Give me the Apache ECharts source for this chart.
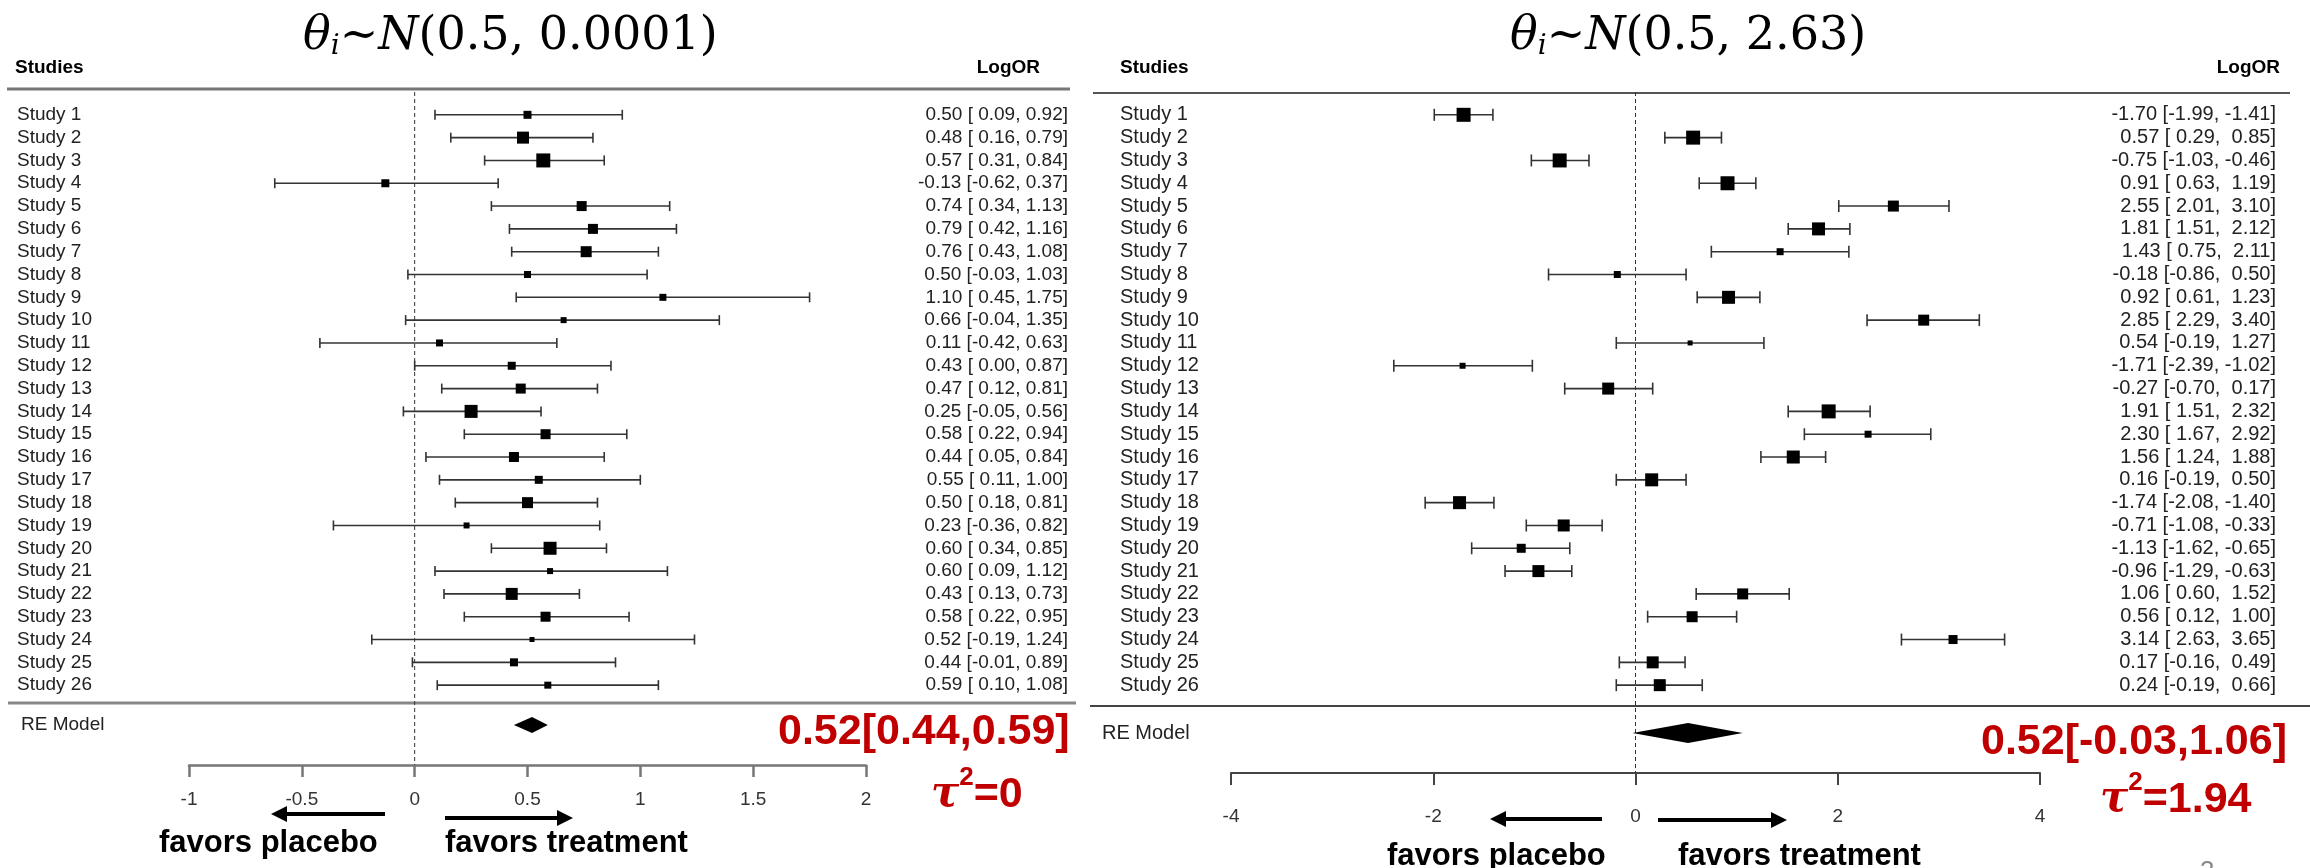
<!DOCTYPE html>
<html>
<head>
<meta charset="utf-8">
<script src="https://cdn.jsdelivr.net/npm/echarts/dist/echarts.min.js"></script>
<style>
  html, body { margin: 0; padding: 0; background: #fff; }
  #chart { width: 2310px; height: 868px; }
</style>
</head>
<body>
<div id="chart"></div>
<script>
// study labels
const studies = Array.from({ length: 26 }, (_, i) => 'Study ' + (i + 1));

// left panel: theta_i ~ N(0.5, 0.0001)
const leftEst = [0.50, 0.48, 0.57, -0.13, 0.74, 0.79, 0.76, 0.50, 1.10, 0.66, 0.11, 0.43, 0.47, 0.25, 0.58, 0.44, 0.55, 0.50, 0.23, 0.60, 0.60, 0.43, 0.58, 0.52, 0.44, 0.59];
const leftLo = [0.09, 0.16, 0.31, -0.62, 0.34, 0.42, 0.43, -0.03, 0.45, -0.04, -0.42, 0.00, 0.12, -0.05, 0.22, 0.05, 0.11, 0.18, -0.36, 0.34, 0.09, 0.13, 0.22, -0.19, -0.01, 0.10];
const leftHi = [0.92, 0.79, 0.84, 0.37, 1.13, 1.16, 1.08, 1.03, 1.75, 1.35, 0.63, 0.87, 0.81, 0.56, 0.94, 0.84, 1.00, 0.81, 0.82, 0.85, 1.12, 0.73, 0.95, 1.24, 0.89, 1.08];
const leftWeight = [8, 12, 14, 8, 10, 10, 11, 7, 7, 6, 7, 8, 10, 13, 10, 10, 8, 11, 6, 13, 6, 12, 10, 5, 8, 7];
const leftPooled = [0.52, 0.44, 0.59];
const leftTicks = [-1, 2, 0.5];

// right panel: theta_i ~ N(0.5, 2.63)
const rightEst = [-1.70, 0.57, -0.75, 0.91, 2.55, 1.81, 1.43, -0.18, 0.92, 2.85, 0.54, -1.71, -0.27, 1.91, 2.30, 1.56, 0.16, -1.74, -0.71, -1.13, -0.96, 1.06, 0.56, 3.14, 0.17, 0.24];
const rightLo = [-1.99, 0.29, -1.03, 0.63, 2.01, 1.51, 0.75, -0.86, 0.61, 2.29, -0.19, -2.39, -0.70, 1.51, 1.67, 1.24, -0.19, -2.08, -1.08, -1.62, -1.29, 0.60, 0.12, 2.63, -0.16, -0.19];
const rightHi = [-1.41, 0.85, -0.46, 1.19, 3.10, 2.12, 2.11, 0.50, 1.23, 3.40, 1.27, -1.02, 0.17, 2.32, 2.92, 1.88, 0.50, -1.40, -0.33, -0.65, -0.63, 1.52, 1.00, 3.65, 0.49, 0.66];
const rightWeight = [14, 14, 14, 14, 11, 13, 7, 7, 13, 11, 5, 6, 12, 14, 7, 13, 13, 13, 12, 9, 12, 11, 11, 9, 12, 12];
const rightPooled = [0.52, -0.03, 1.06];
const rightTicks = [-4, 4, 2];

const rows = studies.map((_, i) => i + 1);

const TXT = '#222';
const R_FONT = '"Liberation Sans", Arial, sans-serif';
const RED = '#C00000';

// pad a column like R does
function fmtCol(vals) {
  const s = vals.map(v => v.toFixed(2));
  const w = Math.max(...s.map(t => t.length));
  return s.map(t => t.padStart(w, ' '));
}
function ciLabels(est, lo, hi) {
  const l = fmtCol(lo), h = fmtCol(hi);
  return est.map((e, i) => e.toFixed(2) + ' [' + l[i] + ', ' + h[i] + ']');
}

function ciSeries(g, est, lo, hi, weight, cap, color) {
  return {
    type: 'custom', xAxisIndex: g, yAxisIndex: g, silent: true, clip: false,
    data: est.map((e, i) => [e, i + 1, lo[i], hi[i], weight[i]]),
    renderItem(params, api) {
      const row = api.value(1);
      const pe = api.coord([api.value(0), row]);
      const pl = api.coord([api.value(2), row]);
      const ph = api.coord([api.value(3), row]);
      const s = api.value(4);
      const st = { stroke: color, lineWidth: 1.6 };
      return {
        type: 'group', children: [
          { type: 'line', shape: { x1: pl[0], y1: pl[1], x2: ph[0], y2: ph[1] }, style: st },
          { type: 'line', shape: { x1: pl[0], y1: pl[1] - cap, x2: pl[0], y2: pl[1] + cap }, style: st },
          { type: 'line', shape: { x1: ph[0], y1: ph[1] - cap, x2: ph[0], y2: ph[1] + cap }, style: st },
          { type: 'rect', shape: { x: pe[0] - s / 2, y: pe[1] - s / 2, width: s, height: s }, style: { fill: '#000' } }
        ]
      };
    }
  };
}

function diamondSeries(g, pooled, row, half) {
  return {
    type: 'custom', xAxisIndex: g, yAxisIndex: g, silent: true, clip: false,
    data: [[pooled[0], row, pooled[1], pooled[2]]],
    renderItem(params, api) {
      const r = api.value(1);
      const pe = api.coord([api.value(0), r]);
      const pl = api.coord([api.value(2), r]);
      const ph = api.coord([api.value(3), r]);
      return {
        type: 'polygon',
        shape: { points: [[pl[0], pl[1]], [pe[0], pe[1] - half], [ph[0], ph[1]], [pe[0], pe[1] + half]] },
        style: { fill: '#000' }
      };
    }
  };
}

function zeroLine(g, yMax) {
  return {
    type: 'custom', xAxisIndex: g, yAxisIndex: g, silent: true, clip: false,
    data: [[0, 0]],
    renderItem(params, api) {
      const a = api.coord([0, 0]);
      const b = api.coord([0, yMax]);
      return { type: 'line', shape: { x1: a[0], y1: a[1], x2: b[0], y2: b[1] }, style: { stroke: '#333', lineWidth: 1, lineDash: [4, 3] } };
    }
  };
}

function textSeries(g, labels, rowList, x, align, size) {
  return {
    type: 'custom', xAxisIndex: g, yAxisIndex: g, silent: true, clip: false,
    data: rowList.map(r => [0, r]),
    renderItem(params, api) {
      const p = api.coord([0, api.value(1)]);
      return {
        type: 'text', x: x, y: p[1],
        style: { text: labels[params.dataIndex], align: align, verticalAlign: 'middle', font: size + 'px ' + R_FONT, fill: TXT }
      };
    }
  };
}

function xAxisCfg(g, ticks, lineColor, lineW, margin) {
  return {
    gridIndex: g, type: 'value', position: 'bottom', min: ticks[0], max: ticks[1], interval: ticks[2],
    splitLine: { show: false },
    axisLine: { onZero: false, lineStyle: { color: lineColor, width: lineW } },
    axisTick: { length: 12, lineStyle: { color: lineColor, width: lineW } },
    axisLabel: { margin: margin, fontSize: 19, color: '#333', fontFamily: 'Liberation Sans' }
  };
}

function arrow(x1, x2, y) {
  const dir = x2 > x1 ? 1 : -1;
  const hx = x2 - dir * 16;
  return {
    type: 'group', children: [
      { type: 'line', shape: { x1: x1, y1: y, x2: hx, y2: y }, style: { stroke: '#000', lineWidth: 4 } },
      { type: 'polygon', shape: { points: [[x2, y], [hx, y - 8], [hx, y + 8]] }, style: { fill: '#000' } }
    ]
  };
}

function title(x, params) {
  return {
    type: 'text', x: x, y: 37,
    style: {
      text: '{a|θ}{s|i}{b|~}{a|N}{b|(' + params + ')}',
      align: 'left', verticalAlign: 'middle', fill: '#000',
      rich: {
        a: { fontFamily: 'DejaVu Serif', fontStyle: 'italic', fontSize: 46, lineHeight: 48, fill: '#000' },
        s: { fontFamily: 'DejaVu Serif', fontStyle: 'italic', fontSize: 28, lineHeight: 28, verticalAlign: 'bottom', fill: '#000' },
        b: { fontFamily: 'DejaVu Serif', fontSize: 46, lineHeight: 48, fill: '#000' }
      }
    }
  };
}

function redText(x, y, txt) {
  return { type: 'text', x: x, y: y, style: { text: txt, align: 'left', verticalAlign: 'middle', font: 'bold 43px "Liberation Sans", Arial, sans-serif', fill: RED } };
}

function tauText(x, y, val) {
  return {
    type: 'text', x: x, y: y,
    style: {
      text: '{t|τ}{p|2}{r|=' + val + '}', align: 'left', verticalAlign: 'middle', fill: RED,
      rich: {
        t: { fontFamily: 'DejaVu Serif', fontStyle: 'italic', fontWeight: 'bold', fontSize: 42, lineHeight: 60, fill: RED },
        p: { fontFamily: 'Liberation Sans', fontWeight: 'bold', fontSize: 26, lineHeight: 26, verticalAlign: 'top', fill: RED },
        r: { fontFamily: 'Liberation Sans', fontWeight: 'bold', fontSize: 43, lineHeight: 60, fill: RED }
      }
    }
  };
}

function hline(x1, x2, y, color, w) {
  return { type: 'line', shape: { x1: x1, y1: y, x2: x2, y2: y }, style: { stroke: color, lineWidth: w } };
}

function plain(x, y, txt, font, align, color) {
  return { type: 'text', x: x, y: y, style: { text: txt, align: align || 'left', verticalAlign: 'middle', font: font, fill: color || '#000' } };
}

const LEFT_YMAX = 29.5, RIGHT_YMAX = 29.85;
const LEFT_RE = 27.75, RIGHT_RE = 28.1;

const option = {
  backgroundColor: '#fff',
  animation: false,
  grid: [
    { left: 189, width: 677, top: 92, height: 673 },
    { left: 1231, width: 809, top: 92, height: 681 }
  ],
  xAxis: [
    xAxisCfg(0, leftTicks, '#777', 2.5, 25),
    xAxisCfg(1, rightTicks, '#444', 2, 34)
  ],
  yAxis: [
    { gridIndex: 0, type: 'value', inverse: true, min: 0, max: LEFT_YMAX, show: false },
    { gridIndex: 1, type: 'value', inverse: true, min: 0, max: RIGHT_YMAX, show: false }
  ],
  series: [
    zeroLine(0, LEFT_YMAX),
    zeroLine(1, RIGHT_YMAX),
    ciSeries(0, leftEst, leftLo, leftHi, leftWeight, 5, '#333'),
    ciSeries(1, rightEst, rightLo, rightHi, rightWeight, 6, '#333'),
    diamondSeries(0, leftPooled, LEFT_RE, 8),
    diamondSeries(1, rightPooled, RIGHT_RE, 10),
    textSeries(0, studies, rows, 17, 'left', 19),
    textSeries(1, studies, rows, 1120, 'left', 20),
    textSeries(0, ciLabels(leftEst, leftLo, leftHi), rows, 1068, 'right', 19),
    textSeries(1, ciLabels(rightEst, rightLo, rightHi), rows, 2276, 'right', 20),
    textSeries(0, ['RE Model'], [LEFT_RE], 21, 'left', 19),
    textSeries(1, ['RE Model'], [RIGHT_RE], 1102, 'left', 20)
  ],
  graphic: [
    title(303, '0.5, 0.0001'),
    title(1510, '0.5, 2.63'),
    plain(15, 68, 'Studies', 'bold 19px "Liberation Sans"'),
    plain(1040, 68, 'LogOR', 'bold 19px "Liberation Sans"', 'right'),
    plain(1120, 68, 'Studies', 'bold 19px "Liberation Sans"'),
    plain(2280, 68, 'LogOR', 'bold 19px "Liberation Sans"', 'right'),
    hline(7, 1070, 89, '#777', 3),
    hline(1093, 2290, 93, '#555', 2),
    hline(8, 1076, 703, '#888', 3),
    hline(1090, 2310, 706, '#444', 2),
    redText(778, 732, '0.52[0.44,0.59]'),
    redText(1981, 742, '0.52[-0.03,1.06]'),
    tauText(931, 795, '0'),
    tauText(2100, 800, '1.94'),
    arrow(385, 271, 814),
    arrow(445, 573, 818),
    arrow(1602, 1490, 819),
    arrow(1658, 1787, 820),
    plain(159, 843, 'favors placebo', 'bold 31px "Liberation Sans"'),
    plain(445, 843, 'favors treatment', 'bold 31px "Liberation Sans"'),
    plain(1387, 856, 'favors placebo', 'bold 31px "Liberation Sans"'),
    plain(1678, 856, 'favors treatment', 'bold 31px "Liberation Sans"'),
    plain(2200, 872, '3', '26px "Liberation Sans"', 'left', '#888')
  ]
};

const myChart = echarts.init(document.getElementById('chart'));
myChart.setOption(option);
</script>
</body>
</html>
